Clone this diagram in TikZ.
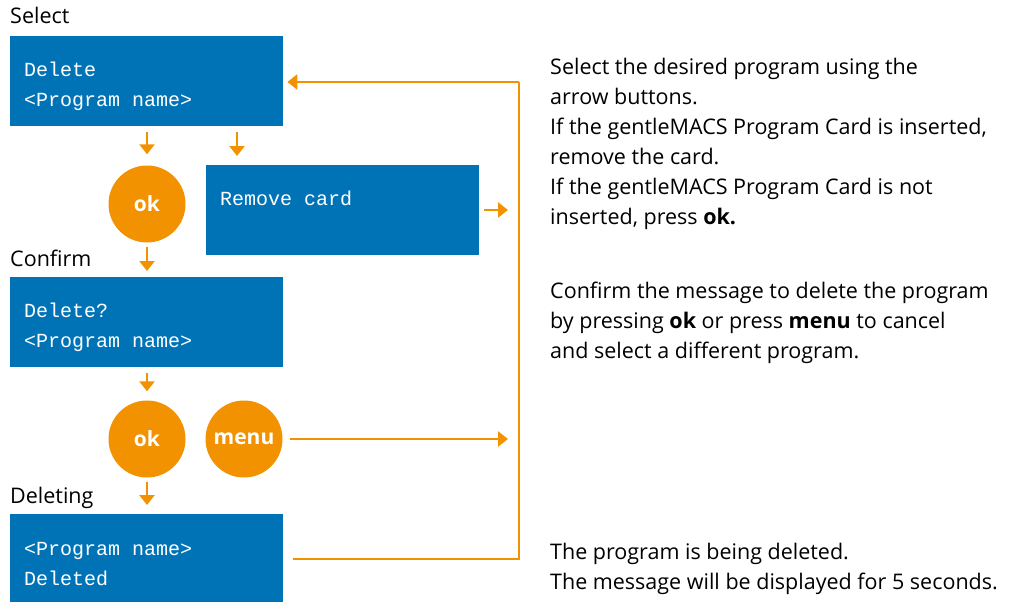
\documentclass[tikz,border=0pt]{standalone}
\usepackage{fontspec}
\setmainfont{Open Sans}
\newfontfamily\lcdfont{Liberation Mono}
\usetikzlibrary{arrows.meta,positioning,calc}

\definecolor{lcdblue}{RGB}{0,115,182}
\definecolor{btnorange}{RGB}{243,146,0}

\tikzset{
  lcd/.style={fill=lcdblue, minimum width=273pt, minimum height=90pt, anchor=north west, inner sep=0pt},
  lcdtxt/.style={text=white, font=\lcdfont\fontsize{20}{30}\selectfont, align=left, anchor=north west, inner sep=0pt},
  btn/.style={circle, fill=btnorange, minimum size=77pt, inner sep=0pt, text=white, font=\fontsize{21}{25}\selectfont\bfseries},
  lbl/.style={font=\fontsize{21.5}{30}\selectfont, anchor=base west, inner sep=0pt},
  info/.style={font=\fontsize{21.5}{30}\selectfont, align=left, anchor=north west, inner sep=0pt},
  flow/.style={draw=btnorange, line width=2.6pt, -{Triangle[width=15pt,length=10pt]}},
  wire/.style={draw=btnorange, line width=2.6pt}
}

\begin{document}
\begin{tikzpicture}[x=1pt, y=-1pt]
  \useasboundingbox (0,0) rectangle (1009,602);

  %screens
  \node[lbl] (lsel) at (10,24) {Select};
  \node[lcd] (sel) at (10,36) {};
  \node[lcdtxt] (tsel) at ([shift={(14,26)}]sel.north west) {Delete\\<Program name>};

  \node[lcd] (rem) at (206,165) {};
  \node[lcdtxt] (trem) at ([shift={(14,26)}]rem.north west) {Remove card};

  \node[lbl] (lconf) at (10,266) {Confirm};
  \node[lcd] (conf) at (10,277) {};
  \node[lcdtxt] (tconf) at ([shift={(14,26)}]conf.north west) {Delete?\\<Program name>};

  \node[lbl] (ldel) at (10,503) {Deleting};
  \node[lcd, minimum height=88pt] (del) at (10,514) {};
  \node[lcdtxt] (tdel) at ([shift={(14,28)}]del.north west) {<Program name>\\Deleted};

  %buttons
  \node[btn] (ok1) at (147,204) {ok};
  \node[btn] (ok2) at (147,439) {ok};
  \node[btn] (menu) at (244,439) {menu};

  \coordinate (bus) at (519,82);
  \coordinate (remtop) at ([xshift=31pt]rem.north west);

  %text
  \node[info] (isel) at (550,58) {Select the desired program using the\\arrow buttons.\\If the gentleMACS Program Card is inserted,\\remove the card.\\If the gentleMACS Program Card is not\\inserted, press \textbf{ok.}};
  \node[info] (iconf) at (550,282) {Confirm the message to delete the program\\by pressing \textbf{ok} or press \textbf{menu} to cancel\\and select a different program.};
  \node[info] (idel) at (550,543) {The program is being deleted.\\The message will be displayed for 5 seconds.};

  %arrows
  \draw[flow, shorten <=6pt, shorten >=11pt] (sel.south -| ok1) -- (ok1.north);
  \draw[flow, shorten <=6pt, shorten >=9pt] (sel.south -| remtop) -- (remtop);
  \draw[flow, shorten <=4pt, shorten >=6pt] (ok1.south) -- (conf.north -| ok1);
  \draw[flow, shorten <=6pt, shorten >=9pt] (conf.south -| ok2) -- (ok2.north);
  \draw[flow, shorten <=4pt, shorten >=9pt] (ok2.south) -- (del.north -| ok2);
  \draw[flow, shorten <=5pt, shorten >=11pt] (rem.east |- 0,210) -- (bus |- 0,210);
  \draw[flow, shorten <=7pt, shorten >=11pt] (menu.east) -- (bus |- menu);
  \draw[wire] ([xshift=10pt]del.east |- 0,559) -- (bus |- 0,559) -- (bus);
  \draw[flow, shorten >=4pt] (bus) -- (sel.east |- bus);
\end{tikzpicture}
\end{document}
